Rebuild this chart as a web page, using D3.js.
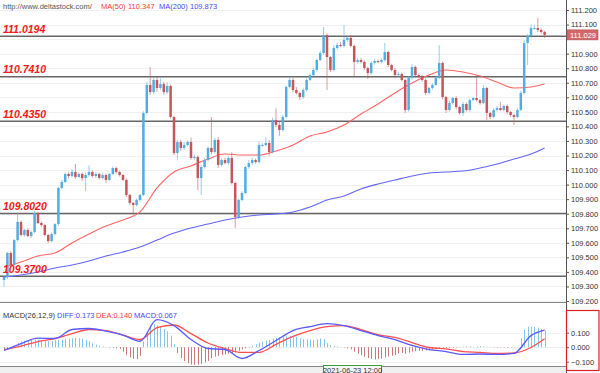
<!DOCTYPE html>
<html>
<head>
<meta charset="utf-8">
<script src="https://cdn.jsdelivr.net/npm/d3@7"></script>
<style>
body{margin:0;background:#fff;}
svg{display:block;font-family:"Liberation Sans",Arial,sans-serif;}
</style>
</head>
<body>
<script>
// USD/JPY hourly candles, close prices
var closes=[109.365,109.530,109.447,109.619,109.743,109.654,109.688,109.647,109.674,109.805,
109.736,109.722,109.654,109.612,109.660,109.729,109.977,110.018,110.073,110.059,
110.087,110.052,110.073,110.045,110.066,110.087,110.059,110.073,110.045,110.066,
110.032,110.073,110.114,110.087,110.066,110.032,109.929,109.874,109.860,109.894,
109.929,110.492,110.685,110.636,110.719,110.664,110.691,110.636,110.678,110.465,
110.217,110.293,110.252,110.272,110.293,110.183,110.190,110.045,110.121,110.169,
110.252,110.224,110.307,110.135,110.169,110.148,110.183,110.011,109.777,109.894,
109.942,110.121,110.148,110.169,110.155,110.272,110.272,110.286,110.224,110.444,
110.410,110.375,110.465,110.671,110.719,110.650,110.630,110.602,110.650,110.719,
110.753,110.788,110.856,110.904,111.028,110.877,110.788,110.939,110.959,110.953,
110.994,111.008,110.953,110.843,110.856,110.843,110.801,110.767,110.836,110.849,
110.843,110.856,110.911,110.822,110.788,110.753,110.760,110.719,110.513,110.733,
110.808,110.753,110.740,110.719,110.630,110.664,110.685,110.733,110.836,110.602,
110.513,110.561,110.595,110.533,110.492,110.554,110.513,110.581,110.595,110.581,
110.561,110.664,110.492,110.465,110.513,110.526,110.513,110.540,110.499,110.478,
110.465,110.513,110.630,110.973,111.021,111.076,111.076,111.063,111.049,111.029];
var firstOpen=109.344;
// wick lengths above / below the body, in 0.001
var wickUp=[10,8,12,6,60,10,8,12,10,12,
8,10,6,8,10,6,8,14,10,12,
20,55,12,10,15,45,10,12,8,14,
10,8,12,10,8,6,10,8,6,10,
8,12,20,123,15,20,40,15,25,10,
8,12,15,20,10,30,15,10,12,15,
10,213,15,20,10,15,12,40,10,8,
12,10,20,15,10,25,15,40,20,15,
80,20,15,10,25,15,20,10,15,12,
10,15,10,12,55,10,8,20,15,20,
103,15,20,10,12,15,10,8,12,15,
10,12,62,10,8,12,15,10,8,12,
20,10,12,15,10,8,12,15,123,10,
8,15,10,12,8,15,10,12,8,145,
10,20,8,10,12,15,42,10,12,8,
10,12,15,20,15,25,20,69,10,8];
var wickDn=[48,15,10,12,8,10,12,8,15,10,
8,12,10,15,10,8,12,10,8,15,
10,12,8,20,90,12,10,15,10,8,
20,10,8,12,10,8,12,15,70,12,
10,8,10,20,15,25,12,20,15,10,
15,48,20,15,10,12,15,82,116,12,
10,15,10,20,12,10,15,10,75,12,
10,8,12,15,10,8,12,10,25,10,
15,40,12,10,8,15,10,20,12,10,
8,10,12,8,10,227,15,10,12,8,
10,12,10,103,12,10,15,40,10,12,
8,10,12,15,10,20,12,10,21,10,
12,15,10,12,15,10,12,8,10,15,
20,12,10,15,12,20,10,12,8,10,
12,8,48,15,10,12,8,10,15,12,
55,10,8,10,151,12,10,15,12,21];

// moving averages and MACD lines, sampled every 5 candles
var lineIdx=[0,5,10,15,20,25,30,35,40,45,50,55,60,65,70,75,80,85,90,95,100,105,110,115,120,125,130,135,140,145,150,155,159];
var ma50=[109.434,109.468,109.509,109.530,109.599,109.660,109.715,109.757,109.812,109.977,110.087,110.128,110.176,110.210,110.203,110.203,110.231,110.272,110.334,110.362,110.410,110.485,110.554,110.630,110.698,110.753,110.788,110.774,110.746,110.705,110.664,110.671,110.691];
var ma200=[109.365,109.379,109.399,109.427,109.447,109.475,109.509,109.537,109.571,109.619,109.667,109.702,109.729,109.757,109.777,109.791,109.798,109.812,109.846,109.894,109.922,109.970,110.004,110.032,110.059,110.080,110.087,110.093,110.114,110.142,110.176,110.210,110.252];
var diff=[-0.023,0.025,0.063,0.060,0.122,0.129,0.111,0.084,0.041,0.190,0.149,0.053,-0.009,-0.016,-0.078,-0.023,0.046,0.115,0.142,0.163,0.149,0.115,0.080,0.053,0.012,-0.016,-0.030,-0.050,-0.047,-0.050,-0.043,0.080,0.117];
var dea=[-0.016,0.008,0.039,0.060,0.094,0.122,0.115,0.084,0.053,0.135,0.153,0.094,0.029,-0.009,-0.036,-0.036,0.019,0.074,0.115,0.142,0.149,0.122,0.087,0.067,0.032,-0.002,-0.012,-0.030,-0.036,-0.043,-0.040,-0.002,0.058];
// MACD histogram per candle, in 0.001
var macdHist=[-15,-12,-8,-3,30,40,45,48,50,52,
50,48,45,42,45,48,50,52,55,58,
62,65,62,58,50,40,28,18,10,5,
2,-3,-5,-8,-12,-30,-55,-70,-80,-82,
-60,40,110,150,158,150,140,125,110,80,
20,-40,-75,-95,-110,-120,-122,-120,-115,-105,
-95,-75,-65,-60,-55,-50,-45,-40,-30,-25,
-15,-8,-3,10,20,30,38,45,50,58,
65,70,72,75,78,75,72,60,55,55,
52,50,55,60,55,30,15,8,5,2,
-3,-8,-15,-30,-45,-55,-65,-75,-80,-85,
-82,-78,-70,-65,-60,-55,-45,-40,-45,-38,
-30,-28,-25,-25,-22,-18,-15,-12,-8,-5,
-6,-5,-4,-3,2,4,6,5,4,6,
8,6,3,2,-2,-3,-2,-3,-4,-3,
-2,2,60,120,140,142,140,135,125,115];

var levels=[111.0194,110.7410,110.4350,109.8020,109.3700];
var priceTicks=[109.2,109.3,109.4,109.5,109.6,109.7,109.8,109.9,110.0,110.1,110.2,110.3,110.4,110.5,110.6,110.7,110.8,110.9,111.0,111.1,111.2];
var macdTicks=[-0.1,0,0.1];
var lastPrice=111.029;
var timeLabel="2021-06-23 12:00";

var W=600,H=373,axisX=566;
var svg=d3.select("body").append("svg").attr("width",W).attr("height",H);

var x=d3.scaleLinear().domain([0,closes.length-1]).range([4,544.6]);
var y=d3.scaleLinear().domain([109.2,111.2]).range([301,10]);
var ym=d3.scaleLinear().domain([-0.1,0.1]).range([361.7,332.7]);

var candles=closes.map(function(c,i){
  var o=i==0?firstOpen:closes[i-1];
  return {i:i,o:o,c:c,h:Math.max(o,c)+wickUp[i]/1000,l:Math.min(o,c)-wickDn[i]/1000};
});

// grid
svg.append("g").selectAll("line").data(priceTicks).enter().append("line")
  .attr("x1",0).attr("x2",axisX)
  .attr("y1",function(d){return Math.round(y(d))+0.5})
  .attr("y2",function(d){return Math.round(y(d))+0.5})
  .attr("stroke","#f1f1f1");
svg.append("g").selectAll("line").data(macdTicks).enter().append("line")
  .attr("x1",0).attr("x2",axisX)
  .attr("y1",function(d){return Math.round(ym(d))+0.5})
  .attr("y2",function(d){return Math.round(ym(d))+0.5})
  .attr("stroke","#f1f1f1");

// level lines
svg.append("g").selectAll("line").data(levels).enter().append("line")
  .attr("x1",0).attr("x2",axisX)
  .attr("y1",function(d){return y(d)}).attr("y2",function(d){return y(d)})
  .attr("stroke","#666").attr("stroke-width",1.5);

// moving averages
var maLine=function(vals){
  return d3.line().curve(d3.curveMonotoneX)
    .x(function(d,i){return x(lineIdx[i])})
    .y(function(d){return y(d)})(vals);
};
svg.append("path").attr("d",maLine(ma200)).attr("fill","none").attr("stroke","#6464ff").attr("stroke-width",1.1);
svg.append("path").attr("d",maLine(ma50)).attr("fill","none").attr("stroke","#ff6464").attr("stroke-width",1.1);

// candles
var upCol="#54ade0",dnCol="#c5565a";
var cg=svg.append("g");
cg.selectAll(".wick").data(candles).enter().append("line")
  .attr("x1",function(d){return x(d.i)}).attr("x2",function(d){return x(d.i)})
  .attr("y1",function(d){return y(d.h)}).attr("y2",function(d){return y(d.l)})
  .attr("stroke",function(d){return d.c>=d.o?upCol:dnCol})
  .attr("stroke-opacity",0.6).attr("stroke-width",1);
cg.selectAll(".body").data(candles).enter().append("rect")
  .attr("x",function(d){return x(d.i)-1.25}).attr("width",2.5)
  .attr("y",function(d){return y(Math.max(d.o,d.c))})
  .attr("height",function(d){return Math.max(1,Math.abs(y(d.o)-y(d.c)))})
  .attr("fill",function(d){return d.c>=d.o?upCol:dnCol});

// level labels
svg.append("g").selectAll("text").data(levels).enter().append("text")
  .attr("x",3).attr("y",function(d){return y(d)-3.5})
  .attr("fill","#f21818").attr("font-size","10.5px")
  .attr("font-weight","bold").attr("font-style","italic")
  .text(function(d){return d.toFixed(4)});

// header
var head=svg.append("g").attr("font-size","7.5px");
head.append("text").attr("x",3).attr("y",9).attr("fill","#555").text("http://www.deltastock.com/");
head.append("text").attr("x",101).attr("y",9).attr("fill","#f04040").text("MA(50)");
head.append("text").attr("x",128).attr("y",9).attr("fill","#f04040").text("110.347");
head.append("text").attr("x",159).attr("y",9).attr("fill","#4848ff").text("MA(200)");
head.append("text").attr("x",190).attr("y",9).attr("fill","#4848ff").text("109.873");

// panel frames
svg.append("line").attr("x1",0).attr("x2",axisX).attr("y1",302.5).attr("y2",302.5).attr("stroke","#888");
svg.append("rect").attr("x",0).attr("y",366).attr("width",axisX).attr("height",7).attr("fill","#f0f0f0");
svg.append("line").attr("x1",0).attr("x2",axisX).attr("y1",366.5).attr("y2",366.5).attr("stroke","#888");

// MACD histogram
svg.append("g").selectAll("line").data(macdHist).enter().append("line")
  .attr("x1",function(d,i){return Math.round(x(i))+0.5}).attr("x2",function(d,i){return Math.round(x(i))+0.5})
  .attr("y1",ym(0)).attr("y2",function(d){return ym(d/1000)})
  .attr("stroke",function(d){return d>=0?"#86c4e8":"#c97a7a"}).attr("stroke-width",1);

var macdLine=function(vals){
  return d3.line().curve(d3.curveMonotoneX)
    .x(function(d,i){return x(lineIdx[i])})
    .y(function(d){return ym(d)})(vals);
};
svg.append("path").attr("d",macdLine(dea)).attr("fill","none").attr("stroke","#ff5050").attr("stroke-width",1.3);
svg.append("path").attr("d",macdLine(diff)).attr("fill","none").attr("stroke","#5a5aff").attr("stroke-width",1.3);

var mh=svg.append("g").attr("font-size","7.5px");
mh.append("text").attr("x",3).attr("y",318).attr("fill","#333").text("MACD(26,12,9)");
mh.append("text").attr("x",57).attr("y",318).attr("fill","#4848ff").text("DIFF:0.173");
mh.append("text").attr("x",96).attr("y",318).attr("fill","#f04040").text("DEA:0.140");
mh.append("text").attr("x",134).attr("y",318).attr("fill","#4848ff").text("MACD:0.067");

// right axes (the tick hidden under the last-price box is skipped)
var shownTicks=priceTicks.filter(function(t){return Math.abs(y(t)-y(lastPrice))>8});
svg.append("line").attr("x1",axisX+0.5).attr("x2",axisX+0.5).attr("y1",0).attr("y2",H).attr("stroke","#555");
var ax=svg.append("g").attr("transform","translate("+axisX+",0)")
  .call(d3.axisRight(y).tickValues(shownTicks).tickFormat(d3.format(".3f")).tickSize(3).tickPadding(2));
ax.select(".domain").remove();
ax.selectAll("text").attr("font-size","7.5px").attr("fill","#333").attr("font-family","Liberation Sans,Arial,sans-serif");
ax.selectAll("line").attr("stroke","#555");

svg.append("rect").attr("x",axisX+0.5).attr("y",310.5).attr("width",W-axisX-1.5).attr("height",60).attr("fill","#fff").attr("stroke","#e02020").attr("stroke-width",1.2);
var axm=svg.append("g").attr("transform","translate("+axisX+",0)")
  .call(d3.axisRight(ym).tickValues(macdTicks).tickFormat(d3.format(".3f")).tickSize(3).tickPadding(2));
axm.select(".domain").remove();
axm.selectAll("text").attr("font-size","7.5px").attr("fill","#333").attr("font-family","Liberation Sans,Arial,sans-serif");
axm.selectAll("line").attr("stroke","#555");

// last price box
svg.append("rect").attr("x",axisX+1).attr("y",y(lastPrice)-5).attr("width",31).attr("height",10)
  .attr("fill","#d46868").attr("stroke","#b84c4c").attr("stroke-width",0.6);
svg.append("text").attr("x",axisX+4).attr("y",y(lastPrice)+3)
  .attr("font-size","7.5px").attr("fill","#fff").text(d3.format(".3f")(lastPrice));

// time label
svg.append("rect").attr("x",323.5).attr("y",365.5).attr("width",58).attr("height",9)
  .attr("fill","#f7f7f7").attr("stroke","#3c9a3c");
svg.append("text").attr("x",352.5).attr("y",372.5).attr("text-anchor","middle")
  .attr("font-size","7.5px").attr("fill","#333").text(timeLabel);
</script>
</body>
</html>
